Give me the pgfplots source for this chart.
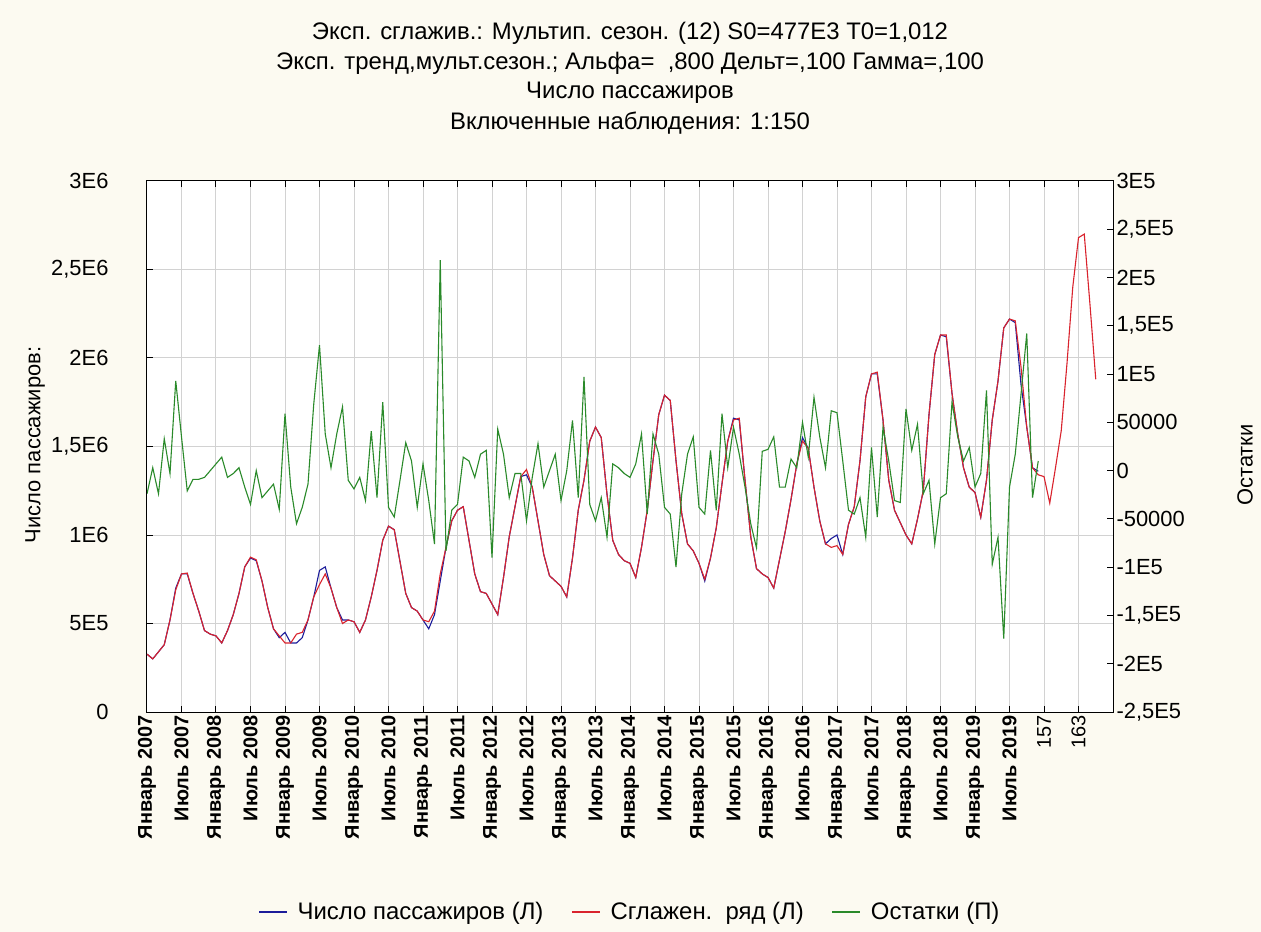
\documentclass[border=0pt]{standalone}
\usepackage{fontspec}
\setmainfont{Liberation Sans}
\usepackage{pgfplots}
\usepackage{pgfplotstable}
\pgfplotsset{compat=1.18}

\definecolor{bgcream}{HTML}{FCFAF1}
\definecolor{serblue}{HTML}{1C1C9A}
\definecolor{serred}{HTML}{D9232D}
\definecolor{sergreen}{HTML}{2A8A2A}
\definecolor{gridgray}{HTML}{D2D2D2}

% obs = observation number, pass = passengers, smooth = smoothed series, resid = residuals
\pgfplotstableread{
obs pass smooth resid
1 327000 327000 -24000
2 300000 300000 3000
3 340000 340000 -24000
4 380000 380000 33000
5 520000 520000 -3000
6 700000 690000 93000
7 780000 780000 35000
8 780000 785000 -21000
9 670000 670000 -9000
10 570000 570000 -9000
11 460000 460000 -7000
12 440000 440000 0
13 430000 430000 7000
14 390000 390000 14000
15 460000 460000 -7000
16 550000 550000 -3000
17 670000 670000 3000
18 820000 820000 -17000
19 870000 875000 -35000
20 855000 860000 0
21 740000 740000 -28000
22 590000 590000 -21000
23 470000 470000 -14000
24 420000 430000 -40000
25 450000 390000 59000
26 390000 390000 -17000
27 390000 440000 -55000
28 420000 450000 -38000
29 520000 520000 -14000
30 650000 650000 69000
31 800000 720000 130000
32 820000 780000 38000
33 700000 700000 3000
34 590000 590000 38000
35 520000 500000 66000
36 520000 520000 -10000
37 510000 510000 -19000
38 450000 450000 -7000
39 520000 520000 -31000
40 650000 650000 41000
41 800000 800000 -28000
42 970000 970000 71000
43 1050000 1050000 -38000
44 1030000 1030000 -48000
45 850000 850000 -10000
46 670000 670000 29000
47 590000 590000 10000
48 570000 570000 -38000
49 520000 520000 7000
50 470000 510000 -31000
51 550000 570000 -76000
52 740000 780000 218000
53 930000 930000 -83000
54 1080000 1080000 -41000
55 1140000 1140000 -35000
56 1160000 1160000 14000
57 970000 970000 10000
58 780000 780000 -7000
59 680000 680000 17000
60 670000 670000 21000
61 610000 610000 -90000
62 550000 550000 43000
63 760000 760000 17000
64 990000 990000 -28000
65 1160000 1160000 -3000
66 1330000 1330000 -3000
67 1340000 1370000 -52000
68 1270000 1270000 -7000
69 1080000 1080000 28000
70 890000 890000 -17000
71 770000 770000 0
72 740000 740000 17000
73 710000 710000 -31000
74 650000 650000 0
75 870000 870000 52000
76 1140000 1140000 -28000
77 1310000 1310000 97000
78 1530000 1530000 -35000
79 1610000 1610000 -52000
80 1550000 1550000 -28000
81 1230000 1230000 -69000
82 970000 970000 7000
83 890000 890000 3000
84 855000 855000 -3000
85 840000 840000 -7000
86 760000 760000 7000
87 930000 930000 38000
88 1140000 1140000 -45000
89 1420000 1420000 38000
90 1680000 1680000 17000
91 1790000 1790000 -38000
92 1760000 1760000 -45000
93 1420000 1420000 -100000
94 1120000 1120000 -24000
95 950000 950000 17000
96 910000 910000 35000
97 840000 840000 -38000
98 740000 750000 -45000
99 870000 870000 21000
100 1040000 1040000 -41000
101 1290000 1290000 59000
102 1530000 1530000 3000
103 1660000 1650000 45000
104 1650000 1660000 17000
105 1310000 1310000 -17000
106 990000 990000 -55000
107 810000 810000 -80000
108 780000 780000 20000
109 760000 760000 22000
110 700000 700000 35000
111 860000 860000 -17000
112 1020000 1020000 -17000
113 1200000 1200000 12000
114 1400000 1400000 3000
115 1550000 1530000 50000
116 1490000 1490000 14000
117 1270000 1270000 76000
118 1080000 1080000 35000
119 950000 950000 3000
120 980000 930000 62000
121 1000000 940000 60000
122 890000 890000 10000
123 1060000 1060000 -41000
124 1160000 1160000 -45000
125 1420000 1420000 -28000
126 1780000 1780000 -69000
127 1910000 1910000 24000
128 1910000 1920000 -48000
129 1650000 1650000 45000
130 1310000 1310000 10000
131 1140000 1140000 -31000
132 1070000 1070000 -33000
133 1000000 1000000 64000
134 950000 950000 21000
135 1090000 1090000 48000
136 1250000 1250000 -24000
137 1680000 1680000 -10000
138 2020000 2020000 -76000
139 2130000 2130000 -28000
140 2120000 2130000 -24000
141 1800000 1800000 71000
142 1570000 1570000 35000
143 1380000 1380000 10000
144 1270000 1270000 24000
145 1240000 1240000 -17000
146 1100000 1100000 -3000
147 1310000 1310000 83000
148 1650000 1650000 -97000
149 1870000 1870000 -69000
150 2170000 2170000 -174000
151 2220000 2220000 -17000
152 2200000 2210000 17000
153 1850000 1950000 79000
154 1610000 1610000 142000
155 1380000 1380000 -28000
156 1360000 1340000 10000
157 nan 1330000 nan
158 nan 1180000 nan
159 nan 1380000 nan
160 nan 1590000 nan
161 nan 1970000 nan
162 nan 2400000 nan
163 nan 2680000 nan
164 nan 2700000 nan
165 nan 2300000 nan
166 nan 1880000 nan
}\datatab

\begin{document}
\begin{tikzpicture}
\path[use as bounding box, fill=bgcream] (-147bp,-220bp) rectangle (1114bp,712bp);

\begin{axis}[
    scale only axis,
    width=966bp, height=531bp,
    at={(0,0)}, anchor=south west,
    axis background/.style={fill=white},
    xmin=1, xmax=169,
    ymin=0, ymax=3000000,
    scaled y ticks=false,
    xtick={1,7,...,163},
    xticklabels={Январь 2007, Июль 2007, Январь 2008, Июль 2008, Январь 2009, Июль 2009,
      Январь 2010, Июль 2010, Январь 2011, Июль 2011, Январь 2012, Июль 2012,
      Январь 2013, Июль 2013, Январь 2014, Июль 2014, Январь 2015, Июль 2015,
      Январь 2016, Июль 2016, Январь 2017, Июль 2017, Январь 2018, Июль 2018,
      Январь 2019, Июль 2019, {\mdseries 157}, {\mdseries 163}},
    ytick={0,500000,1000000,1500000,2000000,2500000,3000000},
    yticklabels={0,5E5,1E6,{1,5E6},2E6,{2,5E6},3E6},
    ytick pos=left,
    xtick pos=both,
    tick align=inside,
    major tick length=6bp,
    grid=major,
    major grid style={gridgray, line width=1bp},
    axis line style={black, line width=1bp},
    tick style={black, line width=1bp},
    x tick label style={rotate=90, anchor=east, font=\fontsize{20}{22}\selectfont\bfseries},
    y tick label style={font=\fontsize{22}{24}\selectfont, xshift=-35bp},
    unbounded coords=jump,
]
\addplot[serblue, line width=1.1bp] table[x=obs, y=pass] {\datatab};
\addplot[serred, line width=1.1bp] table[x=obs, y=smooth] {\datatab};
\end{axis}

\begin{axis}[
    scale only axis,
    width=966bp, height=531bp,
    at={(0,0)}, anchor=south west,
    xmin=1, xmax=169,
    ymin=-250000, ymax=300000,
    scaled y ticks=false,
    axis x line=none,
    axis y line*=right,
    ytick={-250000,-200000,-150000,-100000,-50000,0,50000,100000,150000,200000,250000,300000},
    yticklabels={{-2,5E5},-2E5,{-1,5E5},-1E5,-50000,0,50000,1E5,{1,5E5},2E5,{2,5E5},3E5},
    tick align=inside,
    major tick length=6bp,
    axis line style={black, line width=1bp},
    tick style={black, line width=1bp},
    y tick label style={font=\fontsize{22}{24}\selectfont},
    unbounded coords=jump,
    legend style={at={(0.5,-0.3766)}, anchor=center, draw=none, fill=none,
      legend columns=3, font=\fontsize{24}{26}\selectfont,
      /tikz/every even column/.append style={column sep=26bp}},
    legend image code/.code={\draw[#1] (0bp,0bp) -- (28bp,0bp); \path (36bp,0bp);},
]
\addlegendimage{serblue, line width=1.1bp}
\addlegendentry{Число пассажиров (Л)}
\addlegendimage{serred, line width=1.1bp}
\addlegendentry{Сглажен.\ \ ряд (Л)}
\addplot[sergreen, line width=1.1bp] table[x=obs, y=resid] {\datatab};
\addlegendentry{Остатки (П)}
\end{axis}

\node[font=\fontsize{24}{26}\selectfont] at (483bp,679bp) {Эксп. сглажив.: Мультип. сезон. (12) S0=477E3 T0=1,012};
\node[font=\fontsize{24}{26}\selectfont] at (483bp,649bp) {Эксп. тренд,мульт.сезон.; Альфа=\ \ ,800 Дельт=,100 Гамма=,100};
\node[font=\fontsize{24}{26}\selectfont] at (483bp,619bp) {Число пассажиров};
\node[font=\fontsize{24}{26}\selectfont] at (483bp,589bp) {Включенные наблюдения: 1:150};
\node[rotate=90, font=\fontsize{22}{24}\selectfont] at (-112bp,267bp) {Число пассажиров:};
\node[rotate=90, font=\fontsize{22}{24}\selectfont] at (1098bp,247bp) {Остатки};
\end{tikzpicture}
\end{document}
